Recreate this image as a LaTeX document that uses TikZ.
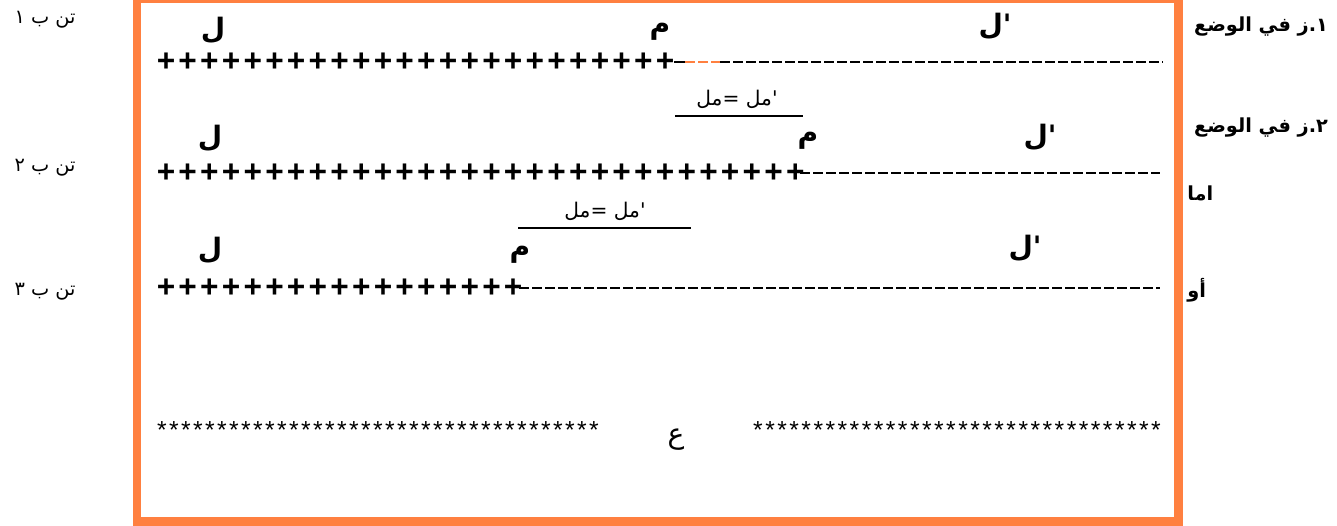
\documentclass[tikz,border=0pt]{standalone}
\usepackage{fontspec}
\setmainfont{Liberation Sans}
\newfontfamily\arabicfont[Script=Arabic]{DejaVu Sans}
\TeXXeTstate=1
\usetikzlibrary{positioning}
\definecolor{frameorange}{RGB}{255,128,64}

\tikzset{
  pluschar/.style={inner sep=0pt, font=\fontsize{18}{18}\selectfont\bfseries},
  starchar/.style={inner sep=0pt, font=\fontsize{14}{14}\selectfont},
  pointlabel/.style={inner sep=0pt, font=\arabicfont\fontsize{16}{16}\selectfont\bfseries},
  eqlabel/.style={inner sep=0pt, font=\arabicfont\fontsize{11.5}{11.5}\selectfont},
  sidelabel/.style={inner sep=0pt, font=\arabicfont\fontsize{11}{11}\selectfont},
  statelabel/.style={inner sep=0pt, font=\arabicfont\fontsize{11}{11}\selectfont\bfseries},
  dashline/.style={line width=1.3pt, dash pattern=on 5.7pt off 1.7pt},
  barline/.style={line width=1.4pt}
}

\begin{document}
\begin{tikzpicture}[x=0.02cm, y=-0.02cm]
    \useasboundingbox (0,0) rectangle (1337,526);
    \clip (0,0) rectangle (1337,526);

    % Frame
    \draw[frameorange, line width=5.1pt] (137,-1.5) rectangle (1178,521.5);

    % Row 1: position at t1
    \foreach \i in {0,...,23}
        \node[pluschar] (p1-\i) at ({166+21.7*\i},62) {+};
    \coordinate (r1a) at (674,62);
    \coordinate (r1b) at (685,62);
    \coordinate (r1c) at (720,62);
    \coordinate (r1d) at (1163,62);
    \draw[line width=1.4pt] (r1a) -- (r1b);
    \draw[dashline, frameorange] (r1b) -- (r1c);
    \draw[dashline] (r1c) -- (r1d);
    \node[pointlabel] (L1) at (213,30) {ل};
    \node[pointlabel] (M1) at (660,32) {م};
    \node[pointlabel] (L1p) at (995,26) {\beginR'\kern0pt ل\endR};

    % Equal distances 1
    \node[eqlabel] (eq1) at (737,99) {\beginR'\kern0pt مل =\kern0pt مل\endR};
    \coordinate (b1a) at (675,116);
    \coordinate (b1b) at (803,116);
    \draw[barline] (b1a) -- (b1b);

    % Row 2: position at t2
    \foreach \i in {0,...,29}
        \node[pluschar] (p2-\i) at ({166+21.7*\i},173) {+};
    \coordinate (r2a) at (800,173);
    \coordinate (r2b) at (1160,173);
    \draw[dashline, line width=1.1pt] (r2a) -- (r2b);
    \node[pointlabel] (L2) at (210,138) {ل};
    \node[pointlabel] (M2) at (808,141) {م};
    \node[pointlabel] (L2p) at (1040,137) {\beginR'\kern0pt ل\endR};

    % Equal distances 2
    \node[eqlabel] (eq2) at (605,211) {\beginR'\kern0pt مل =\kern0pt مل\endR};
    \coordinate (b2a) at (518,228);
    \coordinate (b2b) at (691,228);
    \draw[barline] (b2a) -- (b2b);

    % Row 3
    \foreach \i in {0,...,16}
        \node[pluschar] (p3-\i) at ({166+21.7*\i},288) {+};
    \coordinate (r3a) at (519,288);
    \coordinate (r3b) at (1160,288);
    \draw[dashline, line width=1.1pt] (r3a) -- (r3b);
    \node[pointlabel] (L3) at (210,250) {ل};
    \node[pointlabel] (M3) at (520,255) {م};
    \node[pointlabel] (L3p) at (1025,248) {\beginR'\kern0pt ل\endR};

    % Stars and centre
    \foreach \i in {0,...,36}
        \node[starchar] (sl-\i) at ({162+12*\i},430) {*};
    \foreach \i in {0,...,33}
        \node[starchar] (sr-\i) at ({758+12.06*\i},430) {*};
    \node[pointlabel, font=\arabicfont\fontsize{16}{16}\selectfont] (E) at (676,440) {ع};

    % Left labels
    \node[sidelabel] (tb1) at (45,20) {\beginR تن ب ١\endR};
    \node[sidelabel] (tb2) at (45,168) {\beginR تن ب ٢\endR};
    \node[sidelabel] (tb3) at (45,292) {\beginR تن ب ٣\endR};

    % Right labels
    \node[statelabel] (z1) at (1261,27) {\beginR ١\kern0pt.\kern0pt ز في الوضع\endR};
    \node[statelabel] (z2) at (1261,128) {\beginR ٢\kern0pt.\kern0pt ز في الوضع\endR};
    \node[statelabel, anchor=west] (either) at (1187,193) {اما};
    \node[statelabel, anchor=west] (or) at (1187,290) {أو};
\end{tikzpicture}
\end{document}
